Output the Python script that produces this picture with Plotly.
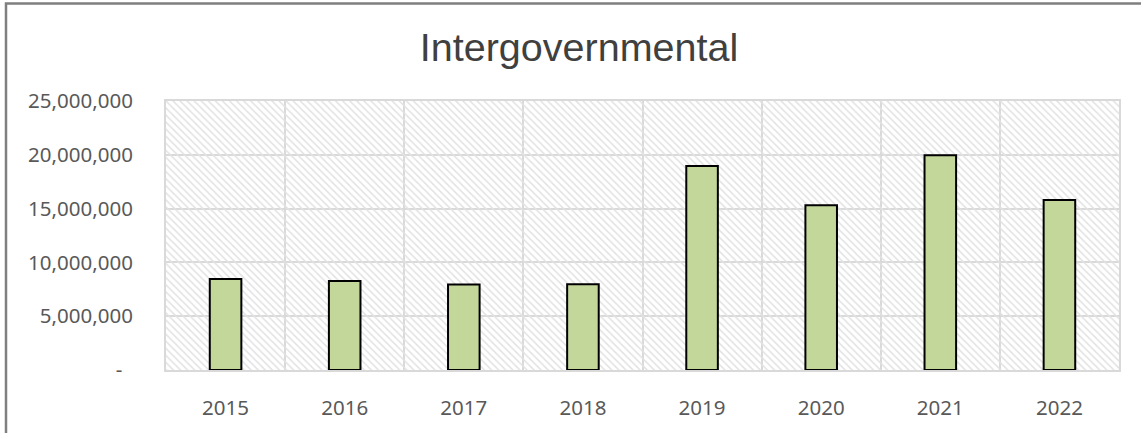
import plotly.graph_objects as go

# Annual intergovernmental revenue
years = ["2015", "2016", "2017", "2018", "2019", "2020", "2021", "2022"]
values = [8_450_000, 8_280_000, 7_950_000, 7_980_000, 18_950_000, 15_300_000, 19_950_000, 15_800_000]

y_ticks = [0, 5_000_000, 10_000_000, 15_000_000, 20_000_000, 25_000_000]
y_tick_labels = ["-\u00a0\u00a0", "5,000,000", "10,000,000", "15,000,000", "20,000,000", "25,000,000"]

n = len(years)
x_pos = list(range(n))
y_top = y_ticks[-1]

W, H = 1141, 433
ML, MR, MT, MB = 166, 22, 101, 60
PW, PH = W - ML - MR, H - MT - MB


def px_x(p):
    return (p - ML) / PW


def px_y(p):
    return (H - MB - p) / PH


GRID = "#d9d9d9"
TICK_FONT = dict(family="Noto Sans", size=20.5, color="#595959")

fig = go.Figure()

# hatched plot-area fill, spanning every category slot
fig.add_trace(go.Bar(
    x=[(n - 1) / 2], y=[y_top], width=[n],
    marker=dict(
        color="rgba(0,0,0,0)",
        line=dict(width=0),
        pattern=dict(shape="\\", fgcolor="#e2e2e2", size=5, solidity=0.3, fillmode="replace"),
    ),
    hoverinfo="skip", showlegend=False,
))

# revenue bars
fig.add_trace(go.Bar(
    x=x_pos, y=values, width=0.265,
    marker=dict(color="#c4d79b", line=dict(color="#000000", width=2)),
    showlegend=False,
))

fig.update_layout(
    width=W, height=H,
    margin=dict(l=ML, r=MR, t=MT, b=MB),
    paper_bgcolor="white", plot_bgcolor="white",
    barmode="overlay",
    title=dict(
        text="Intergovernmental",
        font=dict(family="Liberation Sans", size=39.5, color="#404040"),
        xref="container", x=579 / W, xanchor="center",
        yref="container", y=1 - 47 / H, yanchor="middle",
    ),
    xaxis=dict(
        range=[-0.5, n - 0.5],
        tickmode="array", tickvals=x_pos, ticktext=years,
        showgrid=False, zeroline=False,
        showline=True, mirror=True, linecolor=GRID, linewidth=2,
        ticks="", tickfont=TICK_FONT, ticklabelstandoff=18,
        minor=dict(tickmode="array", tickvals=[i - 0.5 for i in range(n + 1)],
                   showgrid=True, gridcolor=GRID, gridwidth=2, ticks=""),
    ),
    yaxis=dict(
        range=[0, y_top],
        tickmode="array", tickvals=y_ticks, ticktext=y_tick_labels,
        showgrid=True, gridcolor=GRID, gridwidth=2, zeroline=False,
        showline=True, mirror=True, linecolor=GRID, linewidth=2,
        ticks="", tickfont=TICK_FONT, ticklabelstandoff=27,
    ),
    shapes=[
        dict(type="rect", xref="paper", yref="paper",
             x0=px_x(6), x1=px_x(W + 20), y0=px_y(H + 20), y1=px_y(2.5),
             line=dict(color="#7f7f7f", width=2.5), fillcolor="rgba(0,0,0,0)",
             layer="above"),
    ],
)

fig.write_html("out.html")
